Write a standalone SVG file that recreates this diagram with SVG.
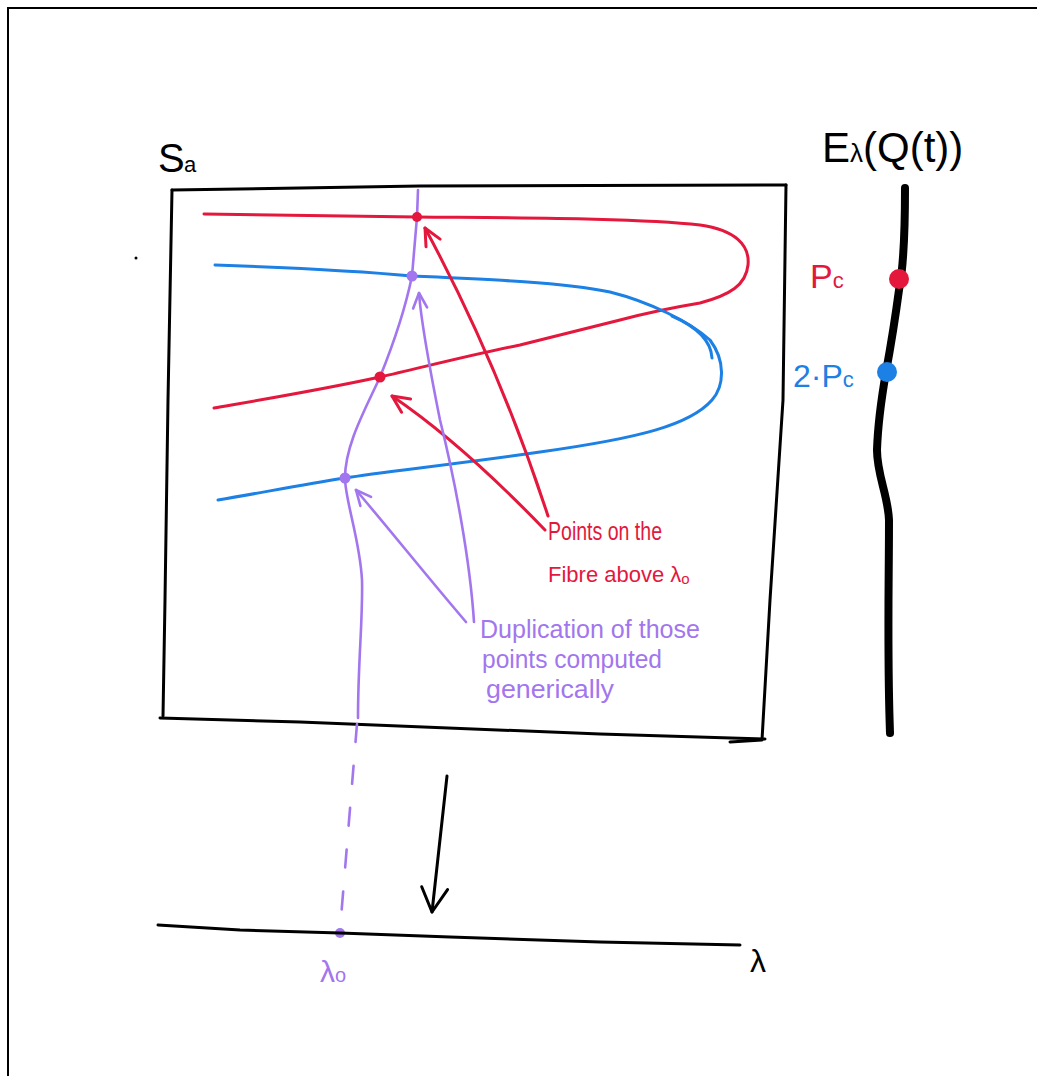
<svg xmlns="http://www.w3.org/2000/svg" width="1037" height="1076" viewBox="0 0 1037 1076">
<defs>
<style>
.ink{fill:none;stroke-linecap:round;stroke-linejoin:round}
.blk{stroke:#000;stroke-width:3}
.red{stroke:#e4173d;stroke-width:3}
.blu{stroke:#1c80e4;stroke-width:3}
.pur{stroke:#a276ee;stroke-width:2.6}
.t{font-family:"Liberation Sans","DejaVu Sans",sans-serif}
.tr{fill:#e4173d}.tb{fill:#1c80e4}.tp{fill:#a276ee}.tk{fill:#000}
</style>
<marker id="vRed" viewBox="0 0 22 22" refX="20" refY="11" markerWidth="22" markerHeight="22" markerUnits="userSpaceOnUse" orient="auto">
<path d="M3,3 L20,11 L3,19" fill="none" stroke="#e4173d" stroke-width="3" stroke-linecap="round" stroke-linejoin="round"/>
</marker>
<marker id="vPur" viewBox="0 0 20 20" refX="18" refY="10" markerWidth="20" markerHeight="20" markerUnits="userSpaceOnUse" orient="auto">
<path d="M3,3 L18,10 L3,17" fill="none" stroke="#a276ee" stroke-width="2.6" stroke-linecap="round" stroke-linejoin="round"/>
</marker>
<marker id="vBlk" viewBox="0 0 30 30" refX="28" refY="15" markerWidth="30" markerHeight="30" markerUnits="userSpaceOnUse" orient="auto">
<path d="M4,2 L28,15 L4,28" fill="none" stroke="#000" stroke-width="3" stroke-linecap="round" stroke-linejoin="round"/>
</marker>
</defs>
<rect width="1037" height="1076" fill="#fff"/>
<path d="M8,1076 L8,8 L1037,8" fill="none" stroke="#000" stroke-width="2"/>

<g id="surface-box">
<path class="ink blk" d="M172,190 L300,188 L420,186 L786,185"/>
<path class="ink blk" d="M786,185 L783,400 L770,600 L762,740 L730,742"/>
<path class="ink blk" d="M160,718 L300,722 L600,734 L765,739"/>
<path class="ink blk" d="M172,190 L168,400 L165,600 L163,716"/>
<circle cx="136" cy="258" r="1.5" fill="#000"/>
</g>

<g id="label-Sa">
<text class="t tk" x="158" y="172" font-size="40">S</text>
<text class="t tk" x="184" y="172" font-size="22">a</text>
</g>

<g id="red-curve">
<path class="ink red" d="M204,214 L417,217 C520,218 640,218 700,225 C735,230 750,245 748,265 C746,285 730,295 700,303 C670,308 650,312 620,320 L520,345 C470,355 420,368 380,377 C320,390 260,400 214,408"/>
</g>

<g id="blue-curve">
<path class="ink blu" d="M215,265 C300,268 380,273 412,276 C480,279 560,282 610,292 C650,302 690,322 710,340 C725,360 725,385 712,400 C690,425 640,438 540,452 C450,465 380,472 345,478 C300,485 260,493 218,500"/>
<path class="ink blu" d="M672,316 C695,326 711,340 712,358"/>
</g>

<g id="fibre-curve">
<path class="ink pur" d="M418,190 L417,217 L412,276 C405,310 395,340 380,377 C365,410 345,445 345,478 C345,500 360,540 362,580 C363,620 358,660 358,718"/>
<path class="ink pur" d="M357,724 L340,930" stroke-dasharray="18 24"/>
</g>

<g id="points">
<circle cx="417" cy="217" r="5" fill="#e4173d"/>
<circle cx="412" cy="276" r="5.5" fill="#a276ee"/>
<circle cx="380" cy="377" r="5.5" fill="#e4173d"/>
<circle cx="345" cy="478" r="5.5" fill="#a276ee"/>
<circle cx="340" cy="933" r="5" fill="#a276ee"/>
</g>

<g id="connectors">
<path class="ink red" d="M548,516 C520,430 480,330 425,228" marker-end="url(#vRed)"/>
<path class="ink red" d="M545,530 C495,478 445,432 392,396" marker-end="url(#vRed)"/>
<path class="ink pur" d="M474,622 C470,560 455,480 440,420 C430,370 421,320 419,293" marker-end="url(#vPur)"/>
<path class="ink pur" d="M466,622 C430,580 390,530 356,490" marker-end="url(#vPur)"/>
<path class="ink blk" d="M447,776 L432,912" marker-end="url(#vBlk)"/>
</g>

<g id="label-points-on-fibre">
<text class="t tr" x="548" y="540" font-size="26" textLength="114" lengthAdjust="spacingAndGlyphs">Points on the</text>
<text class="t tr" x="548" y="582" font-size="22">Fibre above λ<tspan font-size="15" dy="2">o</tspan></text>
</g>

<g id="label-duplication">
<text class="t tp" x="480" y="638" font-size="26" textLength="220" lengthAdjust="spacingAndGlyphs">Duplication of those</text>
<text class="t tp" x="482" y="668" font-size="26" textLength="180" lengthAdjust="spacingAndGlyphs">points computed</text>
<text class="t tp" x="486" y="698" font-size="26" textLength="128" lengthAdjust="spacingAndGlyphs">generically</text>
</g>

<g id="elliptic-curve">
<text class="t tk" x="822" y="162" font-size="42">E<tspan font-size="26">λ</tspan>(Q(t))</text>
<path class="ink" stroke="#000" stroke-width="8" d="M905,188 C905,230 903,270 899,290 C895,320 890,350 886,372 C882,395 878,420 877,450 C877,475 888,495 889,520 C889,580 887,650 890,733"/>
<circle cx="899" cy="279" r="10" fill="#e4173d"/>
<circle cx="887" cy="372" r="10" fill="#1c80e4"/>
<text class="t tr" x="810" y="288" font-size="34">P<tspan font-size="22">c</tspan></text>
<text class="t tb" x="793" y="387" font-size="32">2·P<tspan font-size="22">c</tspan></text>
</g>

<g id="base-line">
<path class="ink blk" d="M158,925 L240,930 L340,933 L450,937 L600,942 L740,945"/>
<text class="t tk" x="750" y="972" font-size="32">λ</text>
<text class="t tp" x="320" y="982" font-size="30">λ<tspan font-size="20">o</tspan></text>
</g>
</svg>
